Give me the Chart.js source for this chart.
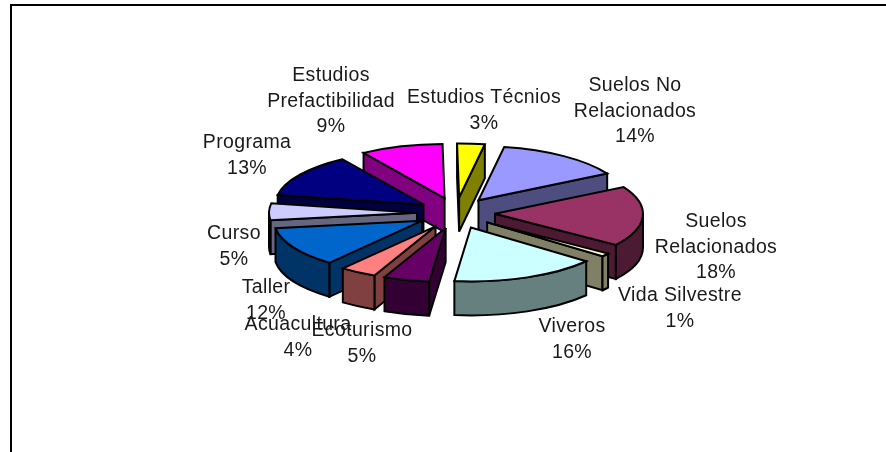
<!DOCTYPE html>
<html><head><meta charset="utf-8">
<style>html,body{margin:0;padding:0;background:#fff}#w{position:relative;width:886px;height:452px;overflow:hidden}canvas{display:block}</style>
<script src="https://cdn.jsdelivr.net/npm/chart.js@4/dist/chart.umd.min.js"></script>
</head><body><div id="w"><canvas id="c" width="886" height="452"></canvas></div>
<script>
const categories = ["Suelos No Relacionados","Suelos Relacionados","Vida Silvestre","Viveros","Ecoturismo","Acuacultura","Taller","Curso","Programa","Estudios Prefactibilidad","Estudios Técnios"];
const values = [14,18,1,16,5,4,12,5,13,9,3];
const topColors = ["#9999FF","#993366","#FFFFCC","#CCFFFF","#660066","#FF8080","#0066CC","#CCCCFF","#000080","#FF00FF","#FFFF00"];
const wallColors = ["#4D4D80","#4D1A33","#808066","#668080","#330033","#804040","#003366","#666680","#000040","#800080","#808000"];
const labelLines = [["Suelos No","Relacionados"],["Suelos","Relacionados"],["Vida Silvestre"],["Viveros"],["Ecoturismo"],["Acuacultura"],["Taller"],["Curso"],["Programa"],["Estudios","Prefactibilidad"],["Estudios Técnios"]];
// label layout: centre x, centre y of the first line (screen px)
const labelX = [635,716,680,572,362,298,266,234,247,331,484];
const labelY = [86,222,296,327,331,325,288,234,143,76,98];
const lineStep = 25.3;
const SQUASH = 0.365, EXPLODE_Y = 0.4, DEPTH = 34, EXPLODE = 39, LW = 2;

const pie3d = {
  id:'pie3d',
  beforeDatasetsDraw(chart){
    const ctx = chart.ctx, meta = chart.getDatasetMeta(0);
    const order = meta.data.map((el,i)=>i).sort((p,q)=>{
      const mid=i=>(meta.data[i].startAngle+meta.data[i].endAngle)/2;
      return Math.sin(mid(p))-Math.sin(mid(q));
    });
    ctx.save();
    ctx.lineJoin='miter'; ctx.miterLimit=3; ctx.lineWidth=LW; ctx.strokeStyle='#000';
    for(const i of order){
      const el = meta.data[i], a=el.startAngle, b=el.endAngle, r=el.outerRadius, m=(a+b)/2;
      const cx = el.x+Math.cos(m)*EXPLODE, cy = el.y+Math.sin(m)*EXPLODE*EXPLODE_Y;
      const px = t=>cx+r*Math.cos(t), py = t=>cy+r*SQUASH*Math.sin(t);
      ctx.fillStyle = wallColors[i];
      const quad=(t)=>{ctx.beginPath();ctx.moveTo(cx,cy);ctx.lineTo(px(t),py(t));ctx.lineTo(px(t),py(t)+DEPTH);ctx.lineTo(cx,cy+DEPTH);ctx.closePath();ctx.fill();ctx.stroke();};
      if(Math.cos(a)<0) quad(a);
      if(Math.cos(b)>0) quad(b);
      // outer curved wall: visible on the lower half of the ellipse
      for(const k of [0,2]){
        const s=Math.max(a,k*Math.PI), e=Math.min(b,(k+1)*Math.PI);
        if(e>s){
          ctx.beginPath();
          ctx.ellipse(cx,cy,r,r*SQUASH,0,s,e);
          ctx.lineTo(px(e),py(e)+DEPTH);
          ctx.ellipse(cx,cy+DEPTH,r,r*SQUASH,0,e,s,true);
          ctx.closePath();ctx.fill();ctx.stroke();
        }
      }
      // top face: the library's arc element under a squash transform
      ctx.save();
      ctx.translate(cx,cy); ctx.scale(1,SQUASH); ctx.translate(-el.x,-el.y);
      el.draw(ctx);
      ctx.restore();
      ctx.beginPath();
      ctx.moveTo(cx,cy);
      ctx.ellipse(cx,cy,r,r*SQUASH,0,a,b);
      ctx.closePath();ctx.stroke();
    }
    ctx.restore();
    return false;
  },
  afterDraw(chart){
    const ctx=chart.ctx;
    ctx.save();
    ctx.fillStyle='#1a1a1a'; ctx.textAlign='center'; ctx.textBaseline='middle';
    ctx.font='19.5px "Liberation Sans", Arial, sans-serif';
    ctx.letterSpacing='0.35px';
    categories.forEach((c,i)=>{
      const lines=labelLines[i].concat(values[i]+'%');
      lines.forEach((t,j)=>ctx.fillText(t,labelX[i],labelY[i]+j*lineStep));
    });
    ctx.restore();
  },
  beforeDraw(chart){
    const ctx=chart.ctx;
    ctx.save();
    ctx.fillStyle='#fff';ctx.fillRect(0,0,886,452);
    ctx.strokeStyle='#000';ctx.lineWidth=2;
    ctx.beginPath();ctx.moveTo(11,453);ctx.lineTo(11,5);ctx.lineTo(886,5);ctx.stroke();
    ctx.restore();
  }
};
new Chart(document.getElementById('c'),{
  type:'pie',
  data:{labels:categories,datasets:[{data:values,backgroundColor:topColors,borderWidth:0}]},
  options:{
    responsive:false,animation:false,rotation:10,radius:148,
    layout:{padding:{left:26,bottom:26}},
    plugins:{legend:{display:false},tooltip:{enabled:false},title:{display:false}}
  },
  plugins:[pie3d]
});
</script></body></html>
